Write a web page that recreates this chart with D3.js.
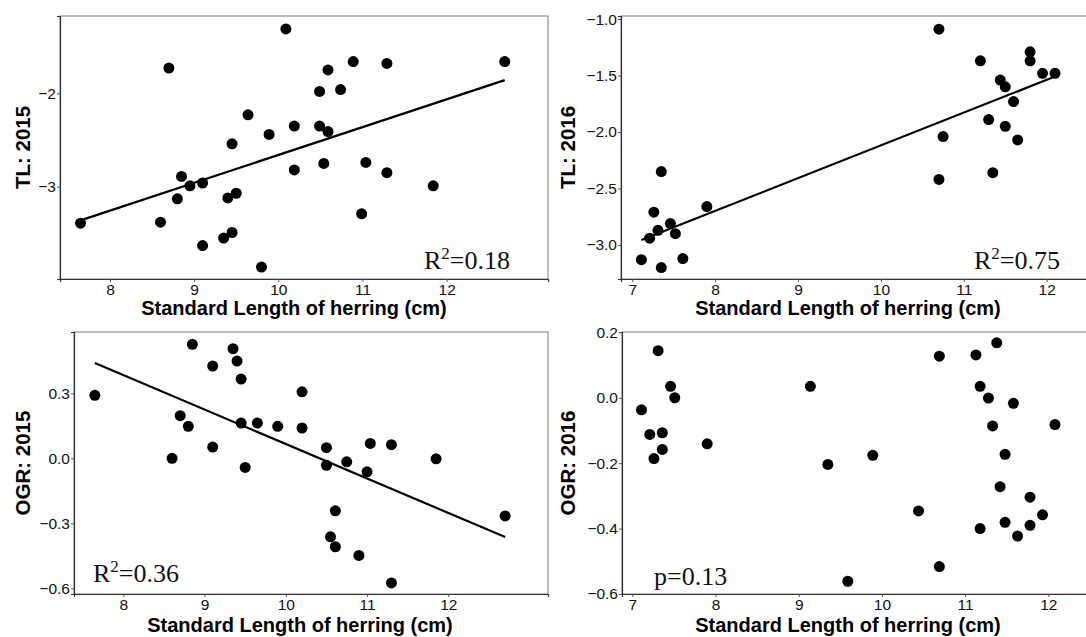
<!DOCTYPE html>
<html>
<head>
<meta charset="utf-8">
<script src="https://cdn.jsdelivr.net/npm/d3@7"></script>
<style>
  body { margin: 0; background: #fff; }
  svg { display: block; }
</style>
</head>
<body>
<div id="chart"></div>
<script>
// herring panels: TL and OGR vs standard length, 2015 and 2016
const width = 1086;
const height = 637;

const tl2015X = [10.09, 8.70, 10.59, 10.89, 11.29, 12.69, 10.49, 10.74, 9.64, 9.89, 10.19, 10.49, 10.59, 9.45, 10.19, 10.54, 11.04, 11.29, 11.84, 8.85, 8.95, 9.10, 8.80, 9.40, 9.50, 7.65, 8.60, 10.99, 9.45, 9.35, 9.10, 9.80];
const tl2015Y = [-1.31, -1.73, -1.75, -1.66, -1.68, -1.66, -1.98, -1.96, -2.23, -2.44, -2.35, -2.35, -2.41, -2.54, -2.82, -2.75, -2.74, -2.85, -2.99, -2.89, -2.99, -2.96, -3.13, -3.12, -3.07, -3.39, -3.38, -3.29, -3.49, -3.55, -3.63, -3.86];

const tl2016X = [10.70, 11.20, 11.80, 11.80, 11.95, 12.10, 11.44, 11.50, 11.60, 11.30, 11.50, 10.75, 11.65, 7.35, 10.70, 11.35, 7.90, 7.26, 7.46, 7.31, 7.52, 7.21, 7.11, 7.61, 7.35];
const tl2016Y = [-1.09, -1.37, -1.29, -1.37, -1.48, -1.48, -1.54, -1.60, -1.73, -1.89, -1.95, -2.04, -2.07, -2.35, -2.42, -2.36, -2.66, -2.71, -2.81, -2.87, -2.90, -2.94, -3.13, -3.12, -3.20];

const ogr2015X = [8.85, 9.35, 9.40, 9.10, 9.45, 10.20, 7.65, 8.70, 8.80, 9.45, 9.65, 9.90, 10.20, 9.10, 8.60, 10.50, 11.04, 11.30, 11.85, 10.50, 10.75, 9.50, 11.00, 10.61, 12.70, 10.55, 10.61, 10.90, 11.30];
const ogr2015Y = [0.526, 0.506, 0.449, 0.426, 0.366, 0.307, 0.291, 0.197, 0.148, 0.163, 0.163, 0.148, 0.140, 0.052, 0.000, 0.049, 0.069, 0.063, -0.002, -0.032, -0.016, -0.042, -0.062, -0.242, -0.266, -0.362, -0.408, -0.448, -0.575];

const ogr2016X = [7.31, 11.38, 10.69, 11.13, 7.46, 9.14, 11.18, 7.51, 11.28, 11.58, 7.11, 11.33, 12.08, 7.21, 7.36, 7.90, 7.36, 7.26, 9.89, 11.48, 9.35, 11.42, 11.78, 10.44, 11.93, 11.48, 11.18, 11.78, 11.63, 10.69, 9.59];
const ogr2016Y = [0.144, 0.168, 0.127, 0.131, 0.035, 0.035, 0.035, 0.000, -0.001, -0.017, -0.037, -0.086, -0.082, -0.112, -0.107, -0.141, -0.158, -0.186, -0.176, -0.173, -0.204, -0.272, -0.304, -0.346, -0.358, -0.381, -0.400, -0.390, -0.423, -0.516, -0.561];

// fitted lines [intercept, slope], null when not significant
const fitTl2015 = [-5.64, 0.298];
const fitTl2016 = [-5.018, 0.290];
const fitOgr2015 = [1.656, -0.159];
const fitOgr2016 = null;

const xTicks2015 = [8, 9, 10, 11, 12];
const xTicks2016 = [7, 8, 9, 10, 11, 12];
const yTicksTl2015 = [-3, -2];
const yTicksTl2016 = [-3.0, -2.5, -2.0, -1.5, -1.0];
const yTicksOgr2015 = [-0.6, -0.3, 0.0, 0.3];
const yTicksOgr2016 = [-0.6, -0.4, -0.2, 0.0, 0.2];

const xTitle = "Standard Length of herring (cm)";

const panels = [
  { x: tl2015X, y: tl2015Y, fit: fitTl2015, ylab: "TL: 2015", xt: xTicks2015, yt: yTicksTl2015, fmt: d3.format("d"),
    box: [60, 16, 548, 279], xd: [7.406, 13.204], yd: [-3.988, -1.172], titleX: 294, titleY: 315, ylabX: 23,
    note: { t: "R", sup: "2", rest: "=0.18", x: 510, y: 269, anchor: "end" } },
  { x: tl2016X, y: tl2016Y, fit: fitTl2016, ylab: "TL: 2016", xt: xTicks2016, yt: yTicksTl2016, fmt: d3.format(".1f"),
    box: [621, 16, 1100, 279], xd: [6.864, 12.643], yd: [-3.301, -0.973], titleX: 848, titleY: 315, ylabX: 568,
    note: { t: "R", sup: "2", rest: "=0.75", x: 1060, y: 269, anchor: "end" } },
  { x: ogr2015X, y: ogr2015Y, fit: fitOgr2015, ylab: "OGR: 2015", xt: xTicks2015, yt: yTicksOgr2015, fmt: d3.format(".1f"),
    box: [74, 332, 548, 594], xd: [7.393, 13.227], yd: [-0.626, 0.583], titleX: 300, titleY: 632, ylabX: 23,
    note: { t: "R", sup: "2", rest: "=0.36", x: 93, y: 582, anchor: "start" } },
  { x: ogr2016X, y: ogr2016Y, fit: fitOgr2016, ylab: "OGR: 2016", xt: xTicks2016, yt: yTicksOgr2016, fmt: d3.format(".1f"),
    box: [622, 332, 1100, 594], xd: [6.876, 12.621], yd: [-0.6, 0.201], titleX: 848, titleY: 632, ylabX: 568,
    note: { t: "p=0.13", sup: null, rest: null, x: 654, y: 585, anchor: "start" } }
];

const sans = "'Liberation Sans', Arial, Helvetica, sans-serif";
const serif = "'Liberation Serif', 'Times New Roman', serif";

const svg = d3.select("#chart")
  .append("svg")
  .attr("width", width)
  .attr("height", height);

function drawPanel(p) {
  const [x0, y0, x1, y1] = p.box;
  const xs = d3.scaleLinear().domain(p.xd).range([x0, x1]);
  const ys = d3.scaleLinear().domain(p.yd).range([y1, y0]);
  const g = svg.append("g");

  // panel border (top/right lighter)
  g.append("rect")
    .attr("x", x0).attr("y", y0)
    .attr("width", x1 - x0).attr("height", y1 - y0)
    .attr("fill", "none")
    .attr("stroke", "#7a7a7a")
    .attr("stroke-width", 1);

  const xAxis = g.append("g")
    .attr("transform", `translate(0,${y1})`)
    .call(d3.axisBottom(xs).tickValues(p.xt).tickFormat(d3.format("d")).tickSize(3).tickPadding(2));
  const yAxis = g.append("g")
    .attr("transform", `translate(${x0},0)`)
    .call(d3.axisLeft(ys).tickValues(p.yt).tickFormat(p.fmt).tickSize(3).tickPadding(1));

  [xAxis, yAxis].forEach(a => {
    a.select(".domain").attr("stroke", "#333").attr("stroke-width", 1.2);
    a.selectAll(".tick line").attr("stroke", "#555");
    a.selectAll(".tick text")
      .attr("fill", "#111")
      .style("font-family", sans)
      .style("font-size", "15.5px");
  });

  // regression line over the data range
  if (p.fit) {
    const ext = d3.extent(p.x);
    g.append("line")
      .attr("x1", xs(ext[0])).attr("y1", ys(p.fit[0] + p.fit[1] * ext[0]))
      .attr("x2", xs(ext[1])).attr("y2", ys(p.fit[0] + p.fit[1] * ext[1]))
      .attr("stroke", "#000")
      .attr("stroke-width", 2.2);
  }

  g.append("g")
    .selectAll("circle")
    .data(p.x.map((v, i) => [v, p.y[i]]))
    .enter().append("circle")
    .attr("cx", d => xs(d[0]))
    .attr("cy", d => ys(d[1]))
    .attr("r", 5.5)
    .attr("fill", "#000");

  const note = g.append("text")
    .attr("x", p.note.x)
    .attr("y", p.note.y)
    .attr("text-anchor", p.note.anchor)
    .style("font-family", serif)
    .style("font-size", "26px")
    .attr("fill", "#111");
  note.append("tspan").text(p.note.t);
  if (p.note.sup) {
    note.append("tspan").text(p.note.sup).attr("dy", -10).style("font-size", "17px");
    note.append("tspan").text(p.note.rest).attr("dy", 10);
  }

  g.append("text")
    .attr("x", p.titleX)
    .attr("y", p.titleY)
    .attr("text-anchor", "middle")
    .style("font-family", sans)
    .style("font-weight", "bold")
    .style("font-size", "20px")
    .attr("fill", "#000")
    .text(xTitle);

  g.append("text")
    .attr("transform", `translate(${p.ylabX},${(y0 + y1) / 2}) rotate(-90)`)
    .attr("text-anchor", "middle")
    .attr("dy", "0.35em")
    .style("font-family", sans)
    .style("font-weight", "bold")
    .style("font-size", "20.5px")
    .attr("fill", "#000")
    .text(p.ylab);
}

panels.forEach(drawPanel);
</script>
</body>
</html>
